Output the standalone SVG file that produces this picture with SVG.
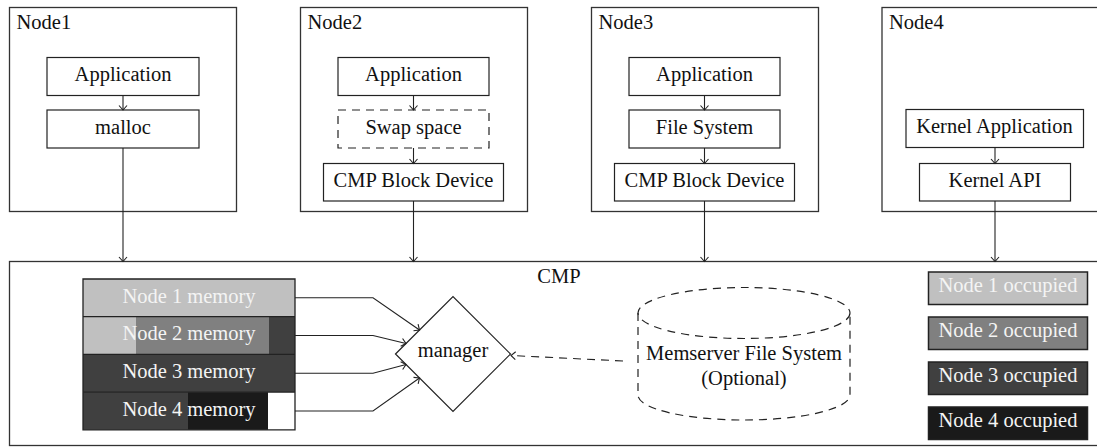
<svg xmlns="http://www.w3.org/2000/svg" width="1097" height="447" viewBox="0 0 1097 447" font-family="'Liberation Serif', 'DejaVu Serif', serif">
  <defs>
    <style>
      text { font-family: 'Liberation Serif', 'DejaVu Serif', serif; font-size: 20.5px; fill: #111; }
      .c { text-anchor: middle; }
      .w { fill: #f4f4f4; }
      .frame { fill: #fff; stroke: #333; stroke-width: 1.3; }
      .box { fill: #fff; stroke: #222; stroke-width: 1.2; }
      .dash { fill: none; stroke: #222; stroke-width: 1.2; stroke-dasharray: 8 6; }
      .wire { fill: none; stroke: #222; stroke-width: 1.1; }
      .lg1 { fill: #c0c0c0; }
      .lg2 { fill: #808080; }
      .lg3 { fill: #404040; }
      .lg4 { fill: #1a1a1a; }
      .edge { fill: none; stroke: #222; stroke-width: 1.3; }
      .key { stroke: #222; stroke-width: 1.5; }
    </style>
    <marker id="arr" markerWidth="12" markerHeight="12" viewBox="-6 -6 12 12" refX="0" refY="0" orient="auto" markerUnits="userSpaceOnUse">
      <path d="M-4.5,-4 L0,0 L-4.5,4" fill="none" stroke="#222" stroke-width="1.1"/>
    </marker>
  </defs>

  <!-- host nodes -->
  <g id="node1">
    <rect class="frame" x="9.5" y="7.5" width="227" height="204"/>
    <text x="16.5" y="29">Node1</text>
    <rect class="box" x="47" y="57.5" width="152" height="38"/>
    <text class="c" x="123" y="81">Application</text>
    <rect class="box" x="47" y="110" width="152" height="38"/>
    <text class="c" x="123" y="133.5">malloc</text>
  </g>

  <g id="node2">
    <rect class="frame" x="300.5" y="7.5" width="227" height="204"/>
    <text x="307.5" y="29">Node2</text>
    <rect class="box" x="338" y="57.5" width="151" height="38"/>
    <text class="c" x="413.5" y="81">Application</text>
    <rect class="dash" x="338" y="110" width="151" height="38"/>
    <text class="c" x="413.5" y="133.5">Swap space</text>
    <rect class="box" x="323.5" y="163.5" width="180" height="37.5"/>
    <text class="c" x="413.5" y="187">CMP Block Device</text>
  </g>

  <g id="node3">
    <rect class="frame" x="591.5" y="7.5" width="227" height="204"/>
    <text x="598.5" y="29">Node3</text>
    <rect class="box" x="629" y="57.5" width="151" height="38"/>
    <text class="c" x="704.5" y="81">Application</text>
    <rect class="box" x="629" y="110" width="151" height="38"/>
    <text class="c" x="704.5" y="133.5">File System</text>
    <rect class="box" x="614.5" y="163.5" width="180" height="37.5"/>
    <text class="c" x="704.5" y="187">CMP Block Device</text>
  </g>

  <g id="node4">
    <rect class="frame" x="882" y="7.5" width="227" height="204"/>
    <text x="889" y="29">Node4</text>
    <rect class="box" x="906" y="109.5" width="177.5" height="38"/>
    <text class="c" x="994.5" y="133">Kernel Application</text>
    <rect class="box" x="919.5" y="163.5" width="151" height="37.5"/>
    <text class="c" x="995" y="187">Kernel API</text>
  </g>

  <!-- shared memory pool -->
  <g id="cmp">
    <rect class="frame" x="9.5" y="261.5" width="1100" height="184"/>
    <text class="c" x="559" y="283">CMP</text>
  </g>

  <g id="memory">
    <rect class="lg1" x="83" y="279" width="212" height="37.7"/>
    <rect class="lg1" x="83" y="316.7" width="53" height="37.7"/>
    <rect class="lg2" x="136" y="316.7" width="133" height="37.7"/>
    <rect class="lg3" x="269" y="316.7" width="26" height="37.7"/>
    <rect class="lg3" x="83" y="354.4" width="212" height="37.7"/>
    <rect class="lg3" x="83" y="392.1" width="105" height="37.7"/>
    <rect class="lg4" x="188" y="392.1" width="80" height="37.7"/>
    <rect fill="#fff" x="268" y="392.1" width="27" height="37.7"/>
    <path class="edge" d="M83,279 H295 V429.8 H83 Z M83,316.7 H295 M83,354.4 H295 M83,392.1 H295"/>
    <text class="c w" x="189" y="302.5">Node 1 memory</text>
    <text class="c w" x="189" y="340.2">Node 2 memory</text>
    <text class="c w" x="189" y="377.9">Node 3 memory</text>
    <text class="c w" x="189" y="415.6">Node 4 memory</text>
  </g>

  <g id="manager">
    <polygon class="box" points="395.5,354 453,296.5 510.5,354 453,411.5"/>
    <text class="c" x="453" y="357">manager</text>
  </g>

  <g id="memserver-fs">
    <ellipse class="dash" cx="744" cy="313" rx="106" ry="25.5"/>
    <path class="dash" d="M638,313 V395 A106,25 0 0,0 850,395 V313"/>
    <text class="c" x="744" y="360">Memserver File System</text>
    <text class="c" x="744" y="385">(Optional)</text>
  </g>

  <g id="legend">
    <rect class="lg1 key" x="928.5" y="272" width="159" height="32.5"/>
    <text class="c w" x="1008" y="292">Node 1 occupied</text>
    <rect class="lg2 key" x="928.5" y="317" width="159" height="32.5"/>
    <text class="c w" x="1008" y="337">Node 2 occupied</text>
    <rect class="lg3 key" x="928.5" y="362" width="159" height="32.5"/>
    <text class="c w" x="1008" y="382">Node 3 occupied</text>
    <rect class="lg4 key" x="928.5" y="407" width="159" height="32.5"/>
    <text class="c w" x="1008" y="427">Node 4 occupied</text>
  </g>

  <!-- connectors -->
  <g id="connectors">
    <path class="wire" marker-end="url(#arr)" d="M123,95.5 V110"/>
    <path class="wire" marker-end="url(#arr)" d="M413.5,95.5 V110"/>
    <path class="wire" marker-end="url(#arr)" d="M413.5,148 V163.5"/>
    <path class="wire" marker-end="url(#arr)" d="M704.5,95.5 V110"/>
    <path class="wire" marker-end="url(#arr)" d="M704.5,148 V163.5"/>
    <path class="wire" marker-end="url(#arr)" d="M995,147.5 V163.5"/>

    <path class="wire" marker-end="url(#arr)" d="M123,148 V261.5"/>
    <path class="wire" marker-end="url(#arr)" d="M413.5,201 V261.5"/>
    <path class="wire" marker-end="url(#arr)" d="M704.5,201 V261.5"/>
    <path class="wire" marker-end="url(#arr)" d="M995,201 V261.5"/>

    <path class="wire" marker-end="url(#arr)" d="M295,297.8 H373 L419.5,330"/>
    <path class="wire" marker-end="url(#arr)" d="M295,335.5 H373 L406,343.5"/>
    <path class="wire" marker-end="url(#arr)" d="M295,373.2 H373 L406,364.5"/>
    <path class="wire" marker-end="url(#arr)" d="M295,411 H373 L419.5,378"/>

    <path class="wire" stroke-dasharray="8 6" marker-end="url(#arr)" d="M623,361 L511,355.5"/>
  </g>
</svg>
